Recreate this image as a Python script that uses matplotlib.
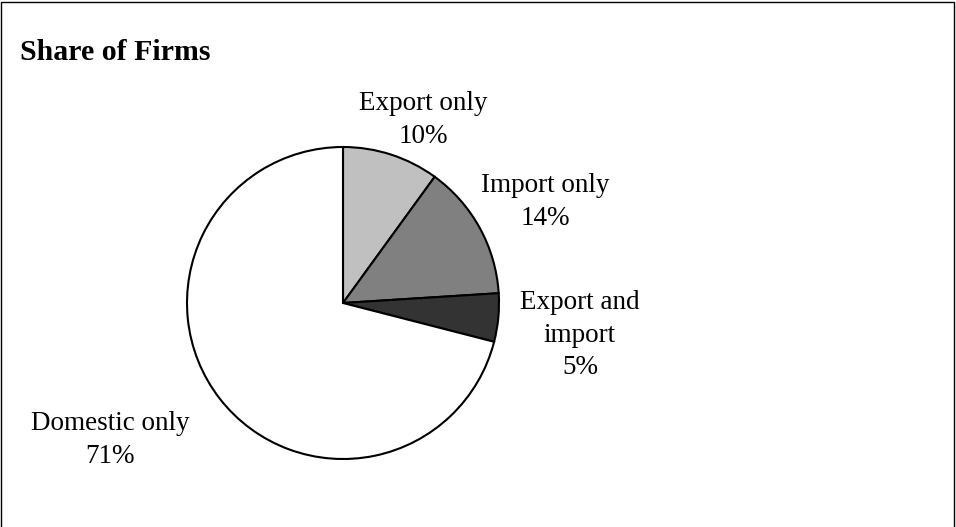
import matplotlib.pyplot as plt
from matplotlib.patches import Rectangle

categories = ["Export only", "Import only", "Export and\nimport", "Domestic only"]
shares = [10, 14, 5, 71]
colors = ["#c0c0c0", "#808080", "#333333", "#ffffff"]
label_pos = [(423, 407), (545, 325), (580, 192), (110, 87)]

plt.rcParams['font.family'] = ['Liberation Serif', 'DejaVu Serif']

fig = plt.figure(figsize=(9.56, 5.27), dpi=100)
ax = fig.add_axes([0, 0, 1, 1])
ax.axis('off')

ax.pie(shares, colors=colors, startangle=90, counterclock=False,
       center=(343, 224), radius=156,
       wedgeprops=dict(edgecolor='black', linewidth=1.5))
ax.set_xlim(0, 956)
ax.set_ylim(0, 527)
ax.set_aspect('equal')

for cat, val, (x, y) in zip(categories, shares, label_pos):
    ax.text(x, y, f"{cat}\n{val}%", ha='center', va='center', fontsize=19.5,
            linespacing=1.38)

ax.text(20, 475, "Share of Firms", fontsize=21.5, fontweight='bold', va='center')
ax.add_patch(Rectangle((1, -5), 953, 530, fill=False, edgecolor='black', lw=1))

fig.savefig("out.png", dpi=100)
